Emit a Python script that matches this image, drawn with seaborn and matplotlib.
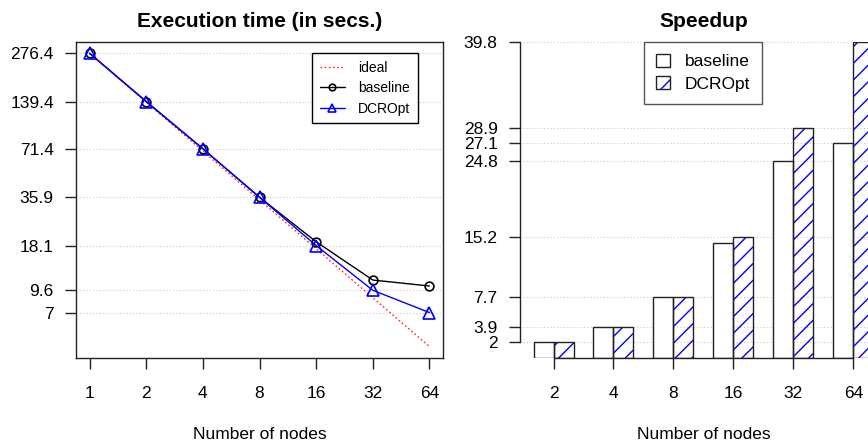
import pandas as pd
import matplotlib
matplotlib.use("Agg")
import matplotlib.pyplot as plt
import seaborn as sns
from matplotlib.patches import Rectangle
from matplotlib.legend_handler import HandlerTuple

# execution time (secs) per number of nodes
nodes = [1, 2, 4, 8, 16, 32, 64]
time_ideal = [276.4, 138.2, 69.1, 34.55, 17.28, 8.64, 4.32]
time_baseline = [276.4, 139.4, 71.4, 35.9, 19.1, 11.1, 10.2]
time_dcropt = [276.4, 139.4, 71.4, 35.9, 18.1, 9.6, 7.0]
time_ticks = [276.4, 139.4, 71.4, 35.9, 18.1, 9.6, 7]

# speedup per number of nodes
speedup_nodes = ["2", "4", "8", "16", "32", "64"]
speedup_baseline = [2.0, 3.9, 7.7, 14.5, 24.8, 27.1]
speedup_dcropt = [2.0, 3.9, 7.7, 15.2, 28.9, 39.8]
speedup_ticks = [2, 3.9, 7.7, 15.2, 24.8, 27.1, 28.9, 39.8]

sns.set_theme(style="ticks")
plt.rcParams["font.family"] = ["Liberation Sans", "DejaVu Sans"]
plt.rcParams["text.color"] = "black"
plt.rcParams["axes.labelcolor"] = "black"
plt.rcParams["axes.titlecolor"] = "black"
plt.rcParams["axes.edgecolor"] = "#222222"
plt.rcParams["axes.linewidth"] = 1.0
plt.rcParams["xtick.color"] = "#222222"
plt.rcParams["ytick.color"] = "#222222"
plt.rcParams["xtick.labelcolor"] = "black"
plt.rcParams["ytick.labelcolor"] = "black"
plt.rcParams["hatch.linewidth"] = 1.0

FS = 12.5
fig = plt.figure(figsize=(8.68, 4.42), dpi=100)
ax1 = fig.add_axes([0.0876, 0.1894, 0.4228, 0.7163])
ax2 = fig.add_axes([0.599, 0.1894, 0.4228, 0.7163])

grid_style = dict(color="#c8c8c8", linestyle=(0, (1, 2)), linewidth=0.8)

# ---- left: execution time ----
sns.lineplot(x=nodes, y=time_ideal, ax=ax1, color="#ff2a2a", linestyle=(0, (1.2, 1.8)),
             linewidth=1.0, label="ideal")
sns.lineplot(x=nodes, y=time_baseline, ax=ax1, color="black", linewidth=1.0,
             marker="o", markersize=6.3, markerfacecolor="none", markeredgecolor="black",
             markeredgewidth=1.2, label="baseline")
sns.lineplot(x=nodes, y=time_dcropt, ax=ax1, color="blue", linewidth=1.0,
             marker="^", markersize=8, markerfacecolor="none", markeredgecolor="blue",
             markeredgewidth=1.2, label="DCROpt")
ax1.set_xscale("log", base=2)
ax1.set_yscale("log")
ax1.set_xlim(2 ** -0.24, 2 ** 6.24)
ax1.set_ylim(3.66, 326)
ax1.set_xticks(nodes)
ax1.set_xticklabels([str(n) for n in nodes])
ax1.set_yticks(time_ticks)
ax1.set_yticklabels([str(t) for t in time_ticks])
ax1.minorticks_off()
for t in time_ticks:
    ax1.axhline(t, zorder=0, **grid_style)
ax1.tick_params(length=8, width=1, labelsize=FS, pad=8)
ax1.tick_params(axis="x", pad=12)
ax1.set_title("Execution time (in secs.)", fontsize=15, fontweight="bold", pad=10.5)
ax1.set_xlabel("Number of nodes", fontsize=FS, labelpad=18.5)
leg1 = ax1.legend(loc="upper right", bbox_to_anchor=(0.932, 0.963), borderaxespad=0,
                  fontsize=10, frameon=True, fancybox=False, edgecolor="black",
                  framealpha=1, handlelength=1.8, handletextpad=0.95, borderpad=0.55,
                  labelspacing=0.45, numpoints=1, markerscale=0.75)
leg1.get_frame().set_linewidth(1.0)

# ---- right: speedup ----
df = pd.DataFrame({
    "nodes": speedup_nodes * 2,
    "speedup": speedup_baseline + speedup_dcropt,
    "variant": ["baseline"] * len(speedup_nodes) + ["DCROpt"] * len(speedup_nodes),
})
sns.barplot(data=df, x="nodes", y="speedup", hue="variant", ax=ax2,
            palette=["white", "white"], saturation=1, width=2 / 3,
            edgecolor="#222222", linewidth=1.0, legend=False, zorder=2)
for p in ax2.containers[1]:
    ax2.add_patch(Rectangle(p.get_xy(), p.get_width(), p.get_height(), fill=False,
                            hatch="//", edgecolor="blue", linewidth=0, zorder=2.5))
    p.set_zorder(3)
    p.set_facecolor("none")
for t in speedup_ticks:
    ax2.axhline(t, zorder=0, **grid_style)
ax2.set_xlim(-0.56, 5.56)
ax2.set_ylim(0, 39.8)
ax2.set_yticks(speedup_ticks)
ax2.set_yticklabels([f"{t:g}" for t in speedup_ticks])
ax2.spines["top"].set_visible(False)
ax2.spines["right"].set_visible(False)
ax2.spines["left"].set_bounds(2, 39.8)
ax2.spines["bottom"].set_bounds(0, 5)
ax2.tick_params(length=8, width=1, labelsize=FS, pad=8)
ax2.tick_params(axis="x", pad=12)
ax2.set_title("Speedup", fontsize=15, fontweight="bold", pad=10.5)
ax2.set_xlabel("Number of nodes", fontsize=FS, labelpad=18.5)
ax2.set_ylabel("")
h_base = Rectangle((0, 0), 1, 1, facecolor="white", edgecolor="#222222", linewidth=1.0)
h_hatch = Rectangle((0, 0), 1, 1, facecolor="white", edgecolor="blue", hatch="//", linewidth=0)
h_edge = Rectangle((0, 0), 1, 1, facecolor="none", edgecolor="#222222", linewidth=1.0)
leg2 = ax2.legend([h_base, (h_hatch, h_edge)], ["baseline", "DCROpt"], loc="upper left",
                  bbox_to_anchor=(0.339, 1.0), borderaxespad=0, fontsize=FS, frameon=True,
                  fancybox=False, edgecolor="#555555", framealpha=1, handlelength=0.75,
                  handleheight=0.75, handletextpad=0.86, borderpad=0.7, labelspacing=0.4,
                  handler_map={tuple: HandlerTuple(ndivide=1, pad=0)})
leg2.get_frame().set_linewidth(1.0)

fig.savefig("out.png", dpi=100)
